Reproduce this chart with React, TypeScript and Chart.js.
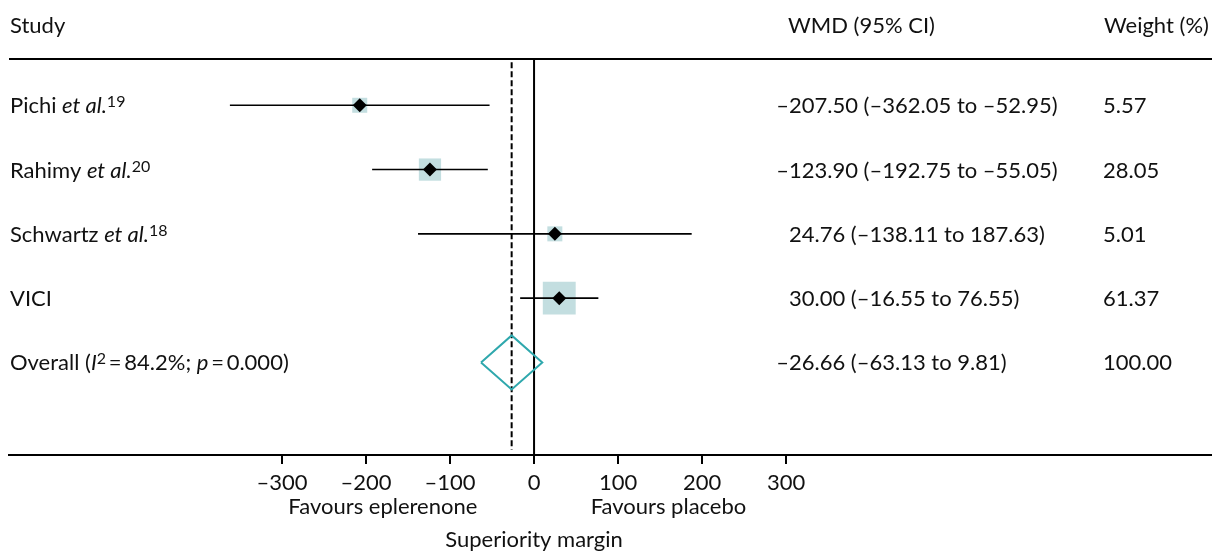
import React, { useEffect, useRef } from "react";
import { Chart, registerables } from "chart.js";

Chart.register(...registerables);

// ---- Data ----
const studyNames = ["Pichi", "Rahimy", "Schwartz", "VICI"];
const studyEtAl = [true, true, true, false];
const studyRefs = ["19", "20", "18", ""];
const estimates = [-207.5, -123.9, 24.76, 30.0];
const lowerCI = [-362.05, -192.75, -138.11, -16.55];
const upperCI = [-52.95, -55.05, 187.63, 76.55];
const weights = [5.57, 28.05, 5.01, 61.37];

const overallEst = -26.66;
const overallLo = -63.13;
const overallHi = 9.81;
const overallWeight = 100.0;
const overallI2 = "84.2%";
const overallP = "0.000";

const tickValues = [-300, -200, -100, 0, 100, 200, 300];
const nullLine = 0;

const FONT = "Lato";
const FS = 22;
const TEXT = "#111111";
const BOX = "#c3dee0";
const TEAL = "#2fa8ad";

const fmt = (v: number) => (v < 0 ? "\u2013" : "") + Math.abs(v).toFixed(2);
const tickFmt = (v: number) => (v < 0 ? "\u2013" + Math.abs(v) : String(v));

type Seg = { t: string; it?: boolean; sup?: boolean };

function drawRich(ctx: CanvasRenderingContext2D, segs: Seg[], x: number, y: number) {
  let cx = x;
  for (const s of segs) {
    const size = s.sup ? 16 : FS;
    ctx.font = `${s.it ? "italic " : ""}${size}px ${FONT}`;
    ctx.fillText(s.t, cx, s.sup ? y - 6 : y);
    cx += ctx.measureText(s.t).width;
  }
}

export default function App() {
  const ref = useRef<HTMLCanvasElement | null>(null);

  useEffect(() => {
    document.body.style.margin = "0";
    let chart: Chart | null = null;
    let cancelled = false;

    const rows = studyNames.length; // overall row index
    const yMin = -0.72;
    const yMax = 5.44;
    const diamondHalf = 0.42;

    const boxSide = (w: number) => Math.max(15, 4.2 * Math.sqrt(w));

    const textPlugin = {
      id: "forestText",
      afterDraw(c: any) {
        const ctx: CanvasRenderingContext2D = c.ctx;
        const ys = c.scales.y;
        const xs = c.scales.x;
        const area = c.chartArea;
        ctx.save();
        // top rule
        ctx.strokeStyle = "#000";
        ctx.lineWidth = 2;
        ctx.beginPath();
        ctx.moveTo(9, area.top);
        ctx.lineTo(c.width, area.top);
        ctx.stroke();

        ctx.fillStyle = TEXT;
        ctx.textBaseline = "alphabetic";
        ctx.textAlign = "left";
        ctx.font = `${FS}px ${FONT}`;
        ctx.fillText("Study", 10, 33);
        ctx.fillText("WMD (95% CI)", 788, 33);
        ctx.fillText("Weight (%)", 1104, 33);

        const wmdX = 789;
        const wX = 1103;
        for (let i = 0; i < studyNames.length; i++) {
          const y = ys.getPixelForValue(i) + 8;
          const segs: Seg[] = [{ t: studyNames[i] + (studyEtAl[i] ? " " : "") }];
          if (studyEtAl[i]) segs.push({ t: "et al.", it: true });
          if (studyRefs[i]) segs.push({ t: studyRefs[i], sup: true });
          drawRich(ctx, segs, 10, y);
          ctx.font = `${FS}px ${FONT}`;
          const txt = `${fmt(estimates[i])} (${fmt(lowerCI[i])} to ${fmt(upperCI[i])})`;
          const off = estimates[i] < 0 ? ctx.measureText("\u2013").width : 0;
          ctx.fillText(txt, wmdX - off, y);
          ctx.fillText(weights[i].toFixed(2), wX, y);
        }
        const oy = ys.getPixelForValue(rows) + 8;
        drawRich(
          ctx,
          [
            { t: "Overall (" },
            { t: "I", it: true },
            { t: "2", sup: true },
            { t: "\u2009=\u2009" + overallI2 + "; " },
            { t: "p", it: true },
            { t: "\u2009=\u2009" + overallP + ")" },
          ],
          10,
          oy
        );
        ctx.font = `${FS}px ${FONT}`;
        const otxt = `${fmt(overallEst)} (${fmt(overallLo)} to ${fmt(overallHi)})`;
        const ooff = overallEst < 0 ? ctx.measureText("\u2013").width : 0;
        ctx.fillText(otxt, wmdX - ooff, oy);
        ctx.fillText(overallWeight.toFixed(2), wX, oy);

        // bottom labels
        ctx.textAlign = "center";
        ctx.fillText("Favours eplerenone", xs.getPixelForValue(-180), 514);
        ctx.fillText("Favours placebo", xs.getPixelForValue(160), 514);
        ctx.fillText("Superiority margin", xs.getPixelForValue(0), 547);
        ctx.restore();
      },
    };

    const datasets: any[] = [];
    // markers (top)
    datasets.push({
      type: "scatter",
      order: 0,
      data: estimates.map((e, i) => ({ x: e, y: i })),
      pointStyle: "rectRot",
      pointRadius: 7,
      backgroundColor: "#000",
      borderColor: "#000",
      borderWidth: 0,
    });
    // CI lines
    studyNames.forEach((_, i) => {
      datasets.push({
        type: "scatter",
        order: 1,
        showLine: true,
        data: [
          { x: lowerCI[i], y: i },
          { x: upperCI[i], y: i },
        ],
        borderColor: "#000",
        borderWidth: 1.6,
        pointRadius: 0,
      });
    });
    // overall diamond
    datasets.push({
      type: "scatter",
      order: 1,
      showLine: true,
      data: [
        { x: overallLo, y: rows },
        { x: overallEst, y: rows - diamondHalf },
        { x: overallHi, y: rows },
        { x: overallEst, y: rows + diamondHalf },
        { x: overallLo, y: rows },
      ],
      borderColor: TEAL,
      borderWidth: 2,
      borderJoinStyle: "miter",
      pointRadius: 0,
    });
    // reference lines
    datasets.push({
      type: "scatter",
      order: 2,
      showLine: true,
      data: [
        { x: nullLine, y: yMin },
        { x: nullLine, y: yMax },
      ],
      borderColor: "#000",
      borderWidth: 2,
      pointRadius: 0,
    });
    datasets.push({
      type: "scatter",
      order: 2,
      showLine: true,
      data: [
        { x: overallEst, y: yMin + 0.05 },
        { x: overallEst, y: yMax - 0.08 },
      ],
      borderColor: "#000",
      borderWidth: 2,
      borderDash: [6, 3],
      pointRadius: 0,
    });
    // weight boxes (bottom)
    datasets.push({
      type: "scatter",
      order: 3,
      data: estimates.map((e, i) => ({ x: e, y: i })),
      pointStyle: "rect",
      pointRadius: weights.map((w) => boxSide(w) / Math.SQRT2),
      backgroundColor: BOX,
      borderWidth: 0,
    });

    const make = () => {
      if (cancelled || !ref.current) return;
      chart = new Chart(ref.current, {
        type: "scatter",
        data: { datasets },
        options: {
          animation: false,
          responsive: false,
          devicePixelRatio: 1,
          layout: { autoPadding: false, padding: { top: 59, left: 9, right: 0, bottom: 0 } },
          plugins: { legend: { display: false }, tooltip: { enabled: false } },
          elements: { line: { tension: 0 } },
          scales: {
            x: {
              type: "linear",
              min: -625,
              max: 807,
              afterBuildTicks: (s: any) => {
                s.ticks = tickValues.map((v) => ({ value: v }));
              },
              afterFit: (s: any) => {
                s.height = 100;
              },
              ticks: {
                autoSkip: false,
                maxRotation: 0,
                padding: 6,
                color: TEXT,
                font: { family: FONT, size: FS },
                callback: (v: any) => tickFmt(Number(v)),
              },
              grid: {
                drawOnChartArea: false,
                drawTicks: true,
                tickLength: 9,
                color: "#000",
                lineWidth: 2,
              },
              border: { display: true, color: "#000", width: 2 },
            },
            y: {
              type: "linear",
              display: false,
              reverse: true,
              min: yMin,
              max: yMax,
            },
          },
        },
        plugins: [textPlugin],
      } as any);
    };

    const fontsReady = (document as any).fonts
      ? Promise.all([
          (document as any).fonts.load(`${FS}px ${FONT}`),
          (document as any).fonts.load(`italic ${FS}px ${FONT}`),
        ]).catch(() => null)
      : Promise.resolve(null);
    fontsReady.then(make);

    return () => {
      cancelled = true;
      if (chart) chart.destroy();
    };
  }, []);

  return (
    <div style={{ width: 1212, height: 555, background: "#fff" }}>
      <canvas ref={ref} width={1212} height={555} style={{ display: "block", width: 1212, height: 555 }} />
    </div>
  );
}
